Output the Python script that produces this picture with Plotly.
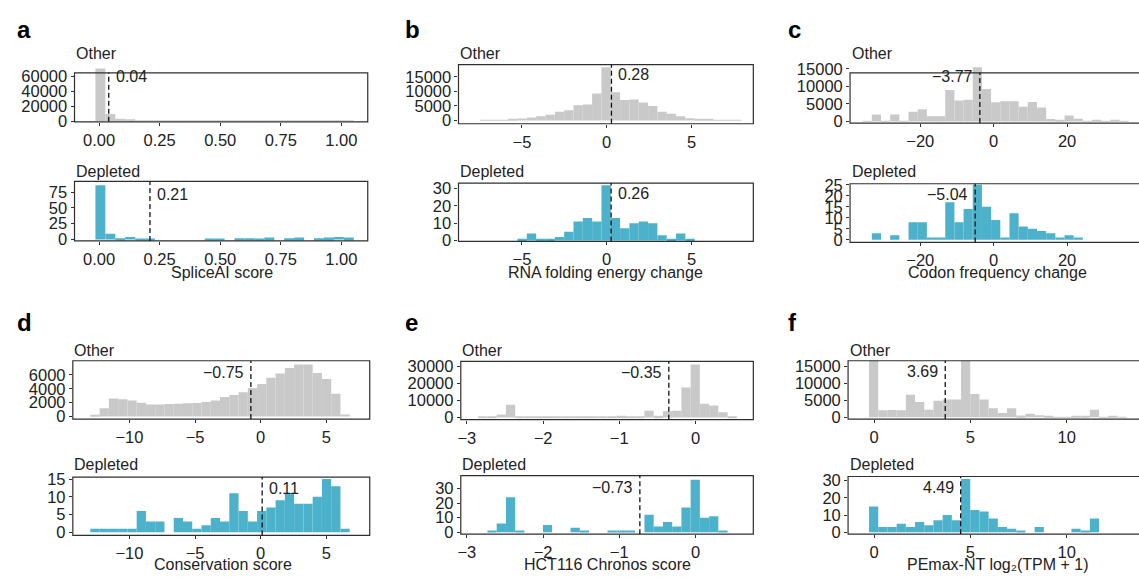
import plotly.graph_objects as go

# ======================= DATA =======================
GROUPS = ["Other", "Depleted"]
PANEL_LETTERS = ["a", "b", "c", "d", "e", "f"]
X_TITLES = ["SpliceAI score", "RNA folding energy change", "Codon frequency change",
            "Conservation score", "HCT116 Chronos score", "PEmax-NT log₂(TPM + 1)"]

# a) SpliceAI score  (histogram: first bin edge, bin width, counts)
splice_bin_start, splice_bin_width = -0.015, 0.041
splice_other = [70000, 9500, 3000, 1500, 900, 600, 450, 350, 300, 250, 220, 200, 180,
                170, 160, 150, 140, 130, 120, 110, 110, 100, 100, 110, 120, 200]
splice_depleted = [86, 9, 2, 4, 1, 1, 0, 0, 0, 0, 0, 1, 1, 0, 2, 2, 1, 3, 0, 2, 3, 0, 2, 3, 4, 3]
splice_medians = [0.04, 0.21]
splice_xticks = [0, 0.25, 0.5, 0.75, 1.0]
splice_xticklabels = ["0.00", "0.25", "0.50", "0.75", "1.00"]
splice_yticks_other = [0, 20000, 40000, 60000]
splice_yticks_depleted = [0, 25, 50, 75]

# b) RNA folding energy change
rna_bin_start, rna_bin_width = -7.46, 0.55
rna_other = [100, 150, 200, 350, 700, 1000, 1500, 2000, 3000, 3500, 5200, 5500, 9300, 18300,
             9700, 7000, 7200, 6200, 5000, 3000, 2300, 1500, 800, 600, 400, 250, 150, 100]
rna_depleted = [0, 0, 0, 0, 1, 4, 1, 1, 2, 5, 11, 13, 11, 32, 13, 7, 10, 11, 10, 3, 1, 4, 1, 0, 0, 0, 0, 0]
rna_medians = [0.28, 0.26]
rna_xticks = [-5, 0, 5]
rna_xticklabels = ["−5", "0", "5"]
rna_yticks_other = [0, 5000, 10000, 15000]
rna_yticks_depleted = [0, 10, 20, 30]

# c) Codon frequency change
codon_bin_start, codon_bin_width = -35.7, 2.5
codon_other = [100, 2000, 100, 2000, 100, 2800, 3500, 1500, 1500, 9000, 6000, 6200, 15500, 9300,
               5500, 5800, 5800, 4200, 5600, 4000, 700, 300, 1700, 800, 100, 400, 100, 300, 100]
codon_depleted = [0, 3, 0, 2, 0, 8, 8, 1, 1, 17, 8, 14, 25, 15, 9, 1, 12, 6, 5, 4, 3, 1, 2, 1, 0, 0, 0, 0, 0]
codon_medians = [-3.77, -5.04]
codon_xticks = [-20, 0, 20]
codon_xticklabels = ["−20", "0", "20"]
codon_yticks_other = [0, 5000, 10000, 15000]
codon_yticks_depleted = [0, 5, 10, 15, 20, 25]

# d) Conservation score
cons_bin_start, cons_bin_width = -12.98, 0.7057
cons_other = [150, 1200, 2600, 2500, 2300, 2000, 1750, 1750, 1800, 1850, 1900, 1950, 2100, 2300,
              2800, 3100, 3500, 4100, 4700, 5600, 6200, 7000, 7500, 7500, 6300, 5400, 3300, 300]
cons_depleted = [1, 1, 1, 1, 1, 6, 3, 3, 0, 4, 3, 1, 2, 4, 3, 11, 6, 3, 6, 7, 9, 11, 8, 8, 10, 15, 13, 1]
cons_medians = [-0.75, 0.11]
cons_xticks = [-10, -5, 0, 5]
cons_xticklabels = ["−10", "−5", "0", "5"]
cons_yticks_other = [0, 2000, 4000, 6000]
cons_yticks_depleted = [0, 5, 10, 15]

# e) HCT116 Chronos score
chronos_bin_start, chronos_bin_width = -2.851, 0.1212
chronos_other = [300, 600, 1800, 7500, 400, 300, 200, 700, 300, 200, 500, 600, 300, 400,
                 500, 1000, 500, 500, 4000, 1000, 3700, 4000, 17500, 31000, 8000, 7000, 3000, 500]
chronos_depleted = [0, 1, 6, 24, 1, 0, 0, 5, 0, 0, 3, 1, 0, 0, 1, 1, 1, 0, 12, 4, 7, 4, 17, 36, 10, 11, 1, 0]
chronos_medians = [-0.35, -0.73]
chronos_xticks = [-3, -2, -1, 0]
chronos_xticklabels = ["−3", "−2", "−1", "0"]
chronos_yticks_other = [0, 10000, 20000, 30000]
chronos_yticks_depleted = [0, 10, 20, 30]

# f) PEmax-NT expression
expr_bin_start, expr_bin_width = -0.268, 0.478
expr_other = [16500, 2000, 2100, 2000, 6600, 4500, 2200, 4800, 5200, 5200, 16500, 6800, 5200, 2600,
              1200, 2600, 500, 1000, 600, 200, 150, 150, 200, 300, 2200, 100, 400, 100]
expr_depleted = [15, 3, 3, 5, 3, 6, 4, 7, 10, 7, 31, 13, 12, 8, 3, 2, 1, 0, 3, 0, 0, 0, 2, 1, 8, 0, 0, 0]
expr_medians = [3.69, 4.49]
expr_xticks = [0, 5, 10]
expr_xticklabels = ["0", "5", "10"]
expr_yticks_other = [0, 5000, 10000, 15000]
expr_yticks_depleted = [0, 10, 20, 30]

panels = [
    dict(start=splice_bin_start, width=splice_bin_width, counts=[splice_other, splice_depleted],
         medians=splice_medians, xt=splice_xticks, xtl=splice_xticklabels,
         yt=[splice_yticks_other, splice_yticks_depleted]),
    dict(start=rna_bin_start, width=rna_bin_width, counts=[rna_other, rna_depleted],
         medians=rna_medians, xt=rna_xticks, xtl=rna_xticklabels,
         yt=[rna_yticks_other, rna_yticks_depleted]),
    dict(start=codon_bin_start, width=codon_bin_width, counts=[codon_other, codon_depleted],
         medians=codon_medians, xt=codon_xticks, xtl=codon_xticklabels,
         yt=[codon_yticks_other, codon_yticks_depleted]),
    dict(start=cons_bin_start, width=cons_bin_width, counts=[cons_other, cons_depleted],
         medians=cons_medians, xt=cons_xticks, xtl=cons_xticklabels,
         yt=[cons_yticks_other, cons_yticks_depleted]),
    dict(start=chronos_bin_start, width=chronos_bin_width, counts=[chronos_other, chronos_depleted],
         medians=chronos_medians, xt=chronos_xticks, xtl=chronos_xticklabels,
         yt=[chronos_yticks_other, chronos_yticks_depleted]),
    dict(start=expr_bin_start, width=expr_bin_width, counts=[expr_other, expr_depleted],
         medians=expr_medians, xt=expr_xticks, xtl=expr_xticklabels,
         yt=[expr_yticks_other, expr_yticks_depleted]),
]

# ======================= GEOMETRY / STYLE (pixels) =======================
W, H = 1139, 584
FONT = "Liberation Sans, Arial, Helvetica, sans-serif"
FILLS = ["#C9C9C9", "#4CB1CA"]
FRAME_COLOR = "#2f2f2f"
TEXT_COLOR = "#222222"
TICK_SIZE = 16.5

GEOM = [
    dict(L=71.7, R=365.7, x0px=96.3, ppu=243.0,
         frames=[(66.7, 117.0), (178.3, 239.5)],
         ycal=[(116.2, 60000, 70.0), (238.0, 75, 189.3)],
         side=["right", "right"], med_cy=[70.0, 191.7],
         letter=(12, 22.4), title=(220, 272), glab=[46.5, 168]),
    dict(L=456.7, R=752.3, x0px=605.3, ppu=17.0,
         frames=[(58.3, 119.0), (180.0, 240.0)],
         ycal=[(115.7, 15000, 70.7), (239.0, 30, 185.7)],
         side=["right", "right"], med_cy=[68.3, 190.7],
         letter=(401, 22.4), title=(604, 272), glab=[46.5, 168]),
    dict(L=849.3, R=1150.0, x0px=993.3, ppu=3.68,
         frames=[(66.7, 118.3), (180.7, 241.0)],
         ycal=[(116.7, 15000, 62.7), (238.3, 25, 181.7)],
         side=["left", "left"], med_cy=[70.0, 191.7],
         letter=(785, 22.4), title=(997, 272), glab=[46.5, 168]),
    dict(L=70.0, R=367.7, x0px=258.4, ppu=13.16,
         frames=[(362.7, 422.7), (482.3, 542.3)],
         ycal=[(420.0, 6000, 377.3), (539.0, 15, 484.3)],
         side=["left", "right"], med_cy=[374.0, 493.3],
         letter=(12, 323.4), title=(221, 571.7), glab=[352, 469]),
    dict(L=459.0, R=752.3, x0px=694.3, ppu=76.4,
         frames=[(363.3, 423.3), (480.7, 541.0)],
         ycal=[(421.0, 30000, 368.3), (539.0, 30, 494.0)],
         side=["left", "left"], med_cy=[374.0, 492.7],
         letter=(401, 323.4), title=(606, 571.7), glab=[352, 469]),
    dict(L=847.3, R=1150.0, x0px=873.5, ppu=19.3,
         frames=[(362.7, 422.7), (481.7, 541.0)],
         ycal=[(420.7, 15000, 368.3), (539.0, 30, 486.0)],
         side=["left", "left"], med_cy=[373.3, 492.3],
         letter=(785, 323.4), title=(998, 571.7), glab=[352, 469]),
]


def fmt(v):
    return f"{v:.2f}".replace("-", "−")


fig = go.Figure()
shapes, annots, axes = [], [], {}
idx = 0
for pi, (p, g) in enumerate(zip(panels, GEOM)):
    r_dom = min(g["R"], W)
    xr = [(g["L"] - g["x0px"]) / g["ppu"], (r_dom - g["x0px"]) / g["ppu"]]
    for gi in range(2):
        idx += 1
        sfx = "" if idx == 1 else str(idx)
        counts = p["counts"][gi]
        centers = [p["start"] + p["width"] * (k + 0.5) for k in range(len(counts))]
        T, B = g["frames"][gi]
        z, tv, tpx = g["ycal"][gi]
        s = (z - tpx) / tv
        lo = -(B - z) / s
        ytop = (z - T) / s
        top_px = min(T, z - max(counts) * s - 1.5)
        hi = (z - top_px) / s

        fig.add_trace(go.Bar(
            x=centers, y=counts, width=p["width"],
            marker=dict(color=FILLS[gi], line=dict(width=0)),
            xaxis="x" + sfx, yaxis="y" + sfx, showlegend=False, hoverinfo="skip"))

        axes["xaxis" + sfx] = dict(
            domain=[g["L"] / W, r_dom / W], range=xr, anchor="y" + sfx,
            tickmode="array", tickvals=p["xt"], ticktext=p["xtl"],
            ticks="outside", ticklen=3, tickwidth=1, tickcolor=FRAME_COLOR,
            tickfont=dict(size=TICK_SIZE, color=TEXT_COLOR, family=FONT),
            showline=False, showgrid=False, zeroline=False, fixedrange=True)
        axes["yaxis" + sfx] = dict(
            domain=[1 - B / H, 1 - top_px / H], range=[lo, hi], anchor="x" + sfx,
            tickmode="array", tickvals=p["yt"][gi], ticktext=[str(v) for v in p["yt"][gi]],
            ticks="outside", ticklen=3, tickwidth=1, tickcolor=FRAME_COLOR,
            tickfont=dict(size=TICK_SIZE, color=TEXT_COLOR, family=FONT),
            showline=False, showgrid=False, zeroline=False, fixedrange=True)

        # panel frame
        shapes.append(dict(type="rect", xref="paper", yref="paper",
                           x0=g["L"] / W, x1=g["R"] / W, y0=1 - B / H, y1=1 - T / H,
                           line=dict(color=FRAME_COLOR, width=1.2), fillcolor="rgba(0,0,0,0)",
                           layer="above"))
        # median dashed line
        med = p["medians"][gi]
        shapes.append(dict(type="line", xref="x" + sfx, yref="y" + sfx,
                           x0=med, x1=med, y0=lo, y1=ytop,
                           line=dict(color="#111111", width=1.3, dash="5px,3px"), layer="above"))
        right = g["side"][gi] == "right"
        annots.append(dict(xref="x" + sfx, yref="paper", x=med, y=1 - (g["med_cy"][gi] + 0.5) / H,
                           text=fmt(med), showarrow=False,
                           xanchor="left" if right else "right", yanchor="middle",
                           xshift=5 if right else -5,
                           font=dict(size=16, color=TEXT_COLOR, family=FONT)))
        # group label
        annots.append(dict(xref="paper", yref="paper", x=(g["L"] - 0.5) / W, y=1 - g["glab"][gi] / H,
                           text=GROUPS[gi], showarrow=False, xanchor="left", yanchor="middle",
                           font=dict(size=16, color=TEXT_COLOR, family=FONT)))

    # x title
    annots.append(dict(xref="paper", yref="paper", x=g["title"][0] / W, y=1 - g["title"][1] / H,
                       text=X_TITLES[pi], showarrow=False, xanchor="center", yanchor="middle",
                       font=dict(size=16, color=TEXT_COLOR, family=FONT)))
    # panel letter
    annots.append(dict(xref="paper", yref="paper", x=g["letter"][0] / W, y=1 - g["letter"][1] / H,
                       text="<b>" + PANEL_LETTERS[pi] + "</b>", showarrow=False,
                       xanchor="left", yanchor="middle",
                       font=dict(size=24, color="#000000", family=FONT)))

fig.update_layout(
    width=W, height=H, margin=dict(l=0, r=0, t=0, b=0),
    paper_bgcolor="white", plot_bgcolor="white",
    font=dict(family=FONT, size=16, color=TEXT_COLOR),
    shapes=shapes, annotations=annots, showlegend=False,
    **axes)

fig.write_html("out.html", config={"displayModeBar": False},
               post_script="document.body.style.margin='0px';document.body.style.overflow='hidden';")
